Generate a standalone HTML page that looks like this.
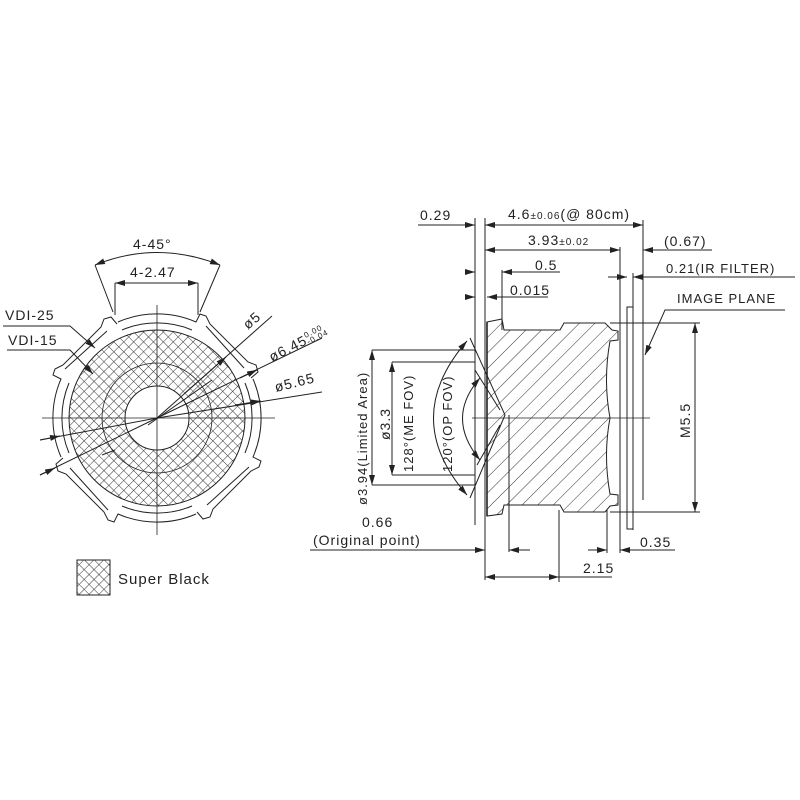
<!DOCTYPE html>
<html><head><meta charset="utf-8"><style>
html,body{margin:0;padding:0;background:#fff}
svg{display:block}
text{font-family:"Liberation Sans",sans-serif;fill:#222;font-size:14px;letter-spacing:1px}
</style></head><body>
<svg width="800" height="800" viewBox="0 0 800 800" xmlns="http://www.w3.org/2000/svg">
<defs>
<pattern id="cross" width="7" height="7" patternUnits="userSpaceOnUse" patternTransform="rotate(45)">
<path d="M0 0H7M0 0V7" stroke="#333" stroke-width="1"/>
</pattern>
<pattern id="diag" width="11" height="11" patternUnits="userSpaceOnUse" patternTransform="rotate(45)">
<path d="M0 0V11" stroke="#333" stroke-width="1"/>
</pattern>
<marker id="a" viewBox="0 0 10 6" refX="10" refY="3" markerWidth="10" markerHeight="6" orient="auto-start-reverse" markerUnits="userSpaceOnUse">
<path d="M0 0L10 3L0 6z" fill="#222"/></marker>
</defs>
<g stroke="#222" stroke-width="1" fill="none">
<!-- LEFT VIEW -->
<circle cx="157" cy="418" r="88" fill="url(#cross)"/>
<circle cx="157" cy="418" r="32" fill="#fff"/>
<circle cx="157" cy="418" r="55" stroke-width="0.8"/>
<!-- outer ring -->
<g id="q">
<path d="M118 322 A98 98 0 0 1 196 322 L200 314 L206 316 L210 324 L248 362 L256 365 L258 372 L251 378"/>
<path d="M122 330 A90 90 0 0 1 192 330"/>
<path d="M206 326 L244 368"/>
</g>
<use href="#q" transform="rotate(90 157 418)"/>
<use href="#q" transform="rotate(180 157 418)"/>
<use href="#q" transform="rotate(270 157 418)"/>
<!-- center lines -->
<path d="M157 305V535M42 418H275" stroke-width="0.8"/>
<!-- 4-45 -->
<path d="M95 265L113 312M220 265L200 312"/>
<path d="M95 265Q157 240 220 265" marker-start="url(#a)" marker-end="url(#a)"/>
<path d="M115 283H198" marker-start="url(#a)" marker-end="url(#a)"/>
<path d="M115 283V315M198 283V315"/>
<!-- VDI -->
<path d="M3 326H70L95 348" marker-end="url(#a)"/>
<path d="M7 350H70L93 374" marker-end="url(#a)"/>
<!-- diameters -->
<path d="M157 418L272 316" /><path d="M185 393L226 357" marker-end="url(#a)"/>
<path d="M157 418L322 338"/><path d="M240 378L257 370" marker-end="url(#a)"/>
<path d="M157 418L322 392"/><path d="M235 405L261 401" marker-end="url(#a)"/>
<path d="M40 440L157 418"/><path d="M40 440L60 436" marker-end="url(#a)"/>
<path d="M40 475L157 418"/><path d="M40 475L55 468" marker-end="url(#a)"/>
<path d="M212 380L148 425M115 450L102 455"/>
<!-- legend -->
<rect x="77" y="560" width="33" height="35" fill="url(#cross)"/>

<!-- RIGHT VIEW -->
<path d="M487 322 L502 319 L504 330 L560 330 L564 323 L605 323 L612 330 L618 331 L618 340 L610 341 Q603 380 610 418 Q603 455 610 494 L618 495 L618 505 L610 506 L605 512 L564 512 L560 505 L504 505 L502 514 L487 516 Z" fill="url(#diag)"/>
<path d="M487 322V516" stroke-width="1.6"/>
<path d="M485 218V580M475 218V525M502 270V330M509 415V552M559 510V582M607 510V553M620 247V553M643 220V500"/>
<rect x="627" y="307" width="6" height="222"/>
<path d="M633 273V530"/>
<path d="M472 418H650" stroke-width="0.8"/>
<!-- dims top -->
<path d="M418 225H475"/><path d="M455 225H475" marker-end="url(#a)"/>
<path d="M485 225H643" marker-start="url(#a)" marker-end="url(#a)"/>
<path d="M485 250H620" marker-start="url(#a)" marker-end="url(#a)"/>
<path d="M643 250H712"/><path d="M660 250H643" marker-end="url(#a)"/>
<path d="M465 272H475" marker-end="url(#a)"/><path d="M522 272H502" marker-end="url(#a)"/><path d="M502 272H560"/>
<path d="M465 297H475" marker-end="url(#a)"/><path d="M505 297H487" marker-end="url(#a)"/><path d="M487 297H548"/>
<path d="M608 277H627" marker-end="url(#a)"/><path d="M652 277H633" marker-end="url(#a)"/><path d="M633 277H795"/>
<path d="M785 310H665L645 355" marker-end="url(#a)"/>
<!-- M5.5 -->
<path d="M610 323H700M610 512H700"/>
<path d="M695 323V512" marker-start="url(#a)" marker-end="url(#a)"/>
<!-- left dims -->
<path d="M372 350H475M392 362H475M392 475H475M372 485H475"/>
<path d="M372 350V485" marker-start="url(#a)" marker-end="url(#a)"/>
<path d="M392 362V475" marker-start="url(#a)" marker-end="url(#a)"/>
<path d="M467 341Q400 418 467 495" marker-start="url(#a)" marker-end="url(#a)"/>
<path d="M480 378Q445 418 480 460" marker-start="url(#a)" marker-end="url(#a)"/>
<path d="M470 338L505 415L470 498M475 370L500 410M477 465L500 425"/>
<!-- bottom dims -->
<path d="M310 550H485" marker-end="url(#a)"/><path d="M530 550H509" marker-end="url(#a)"/>
<path d="M588 550H607" marker-end="url(#a)"/><path d="M640 550H620" marker-end="url(#a)"/><path d="M620 550H675"/>
<path d="M485 577H559" marker-start="url(#a)" marker-end="url(#a)"/><path d="M559 577H612"/>
</g>
<g>
<text x="133" y="249">4-45°</text>
<text x="130" y="277">4-2.47</text>
<text x="5" y="320">VDI-25</text>
<text x="8" y="345">VDI-15</text>
<text transform="translate(248,330) rotate(-41)">ø5</text>
<text transform="translate(272,362) rotate(-27)">ø6.45<tspan font-size="8" dy="-6">0.00</tspan><tspan font-size="8" dx="-20" dy="7">-0.04</tspan></text>
<text transform="translate(276,392) rotate(-14)">ø5.65</text>
<text x="118" y="584" style="font-size:15px">Super Black</text>
<text x="420" y="220">0.29</text>
<text x="508" y="219">4.6<tspan font-size="10">±0.06</tspan>(@ 80cm)</text>
<text x="528" y="245">3.93<tspan font-size="10">±0.02</tspan></text>
<text x="664" y="246">(0.67)</text>
<text x="535" y="270">0.5</text>
<text x="666" y="273" style="font-size:13px">0.21(IR FILTER)</text>
<text x="510" y="295">0.015</text>
<text x="677" y="303" style="font-size:13px">IMAGE PLANE</text>
<text transform="translate(690,438) rotate(-90)">M5.5</text>
<text transform="translate(367,505) rotate(-90)" style="font-size:13px">ø3.94(Limited Area)</text>
<text transform="translate(390,440) rotate(-90)">ø3.3</text>
<text transform="translate(413,472) rotate(-90)" style="font-size:13px">128°(ME FOV)</text>
<text transform="translate(452,472) rotate(-90)" style="font-size:13px">120°(OP FOV)</text>
<text x="362" y="527">0.66</text>
<text x="313" y="545">(Original point)</text>
<text x="640" y="547">0.35</text>
<text x="583" y="573">2.15</text>
</g>
</svg>
</body></html>
